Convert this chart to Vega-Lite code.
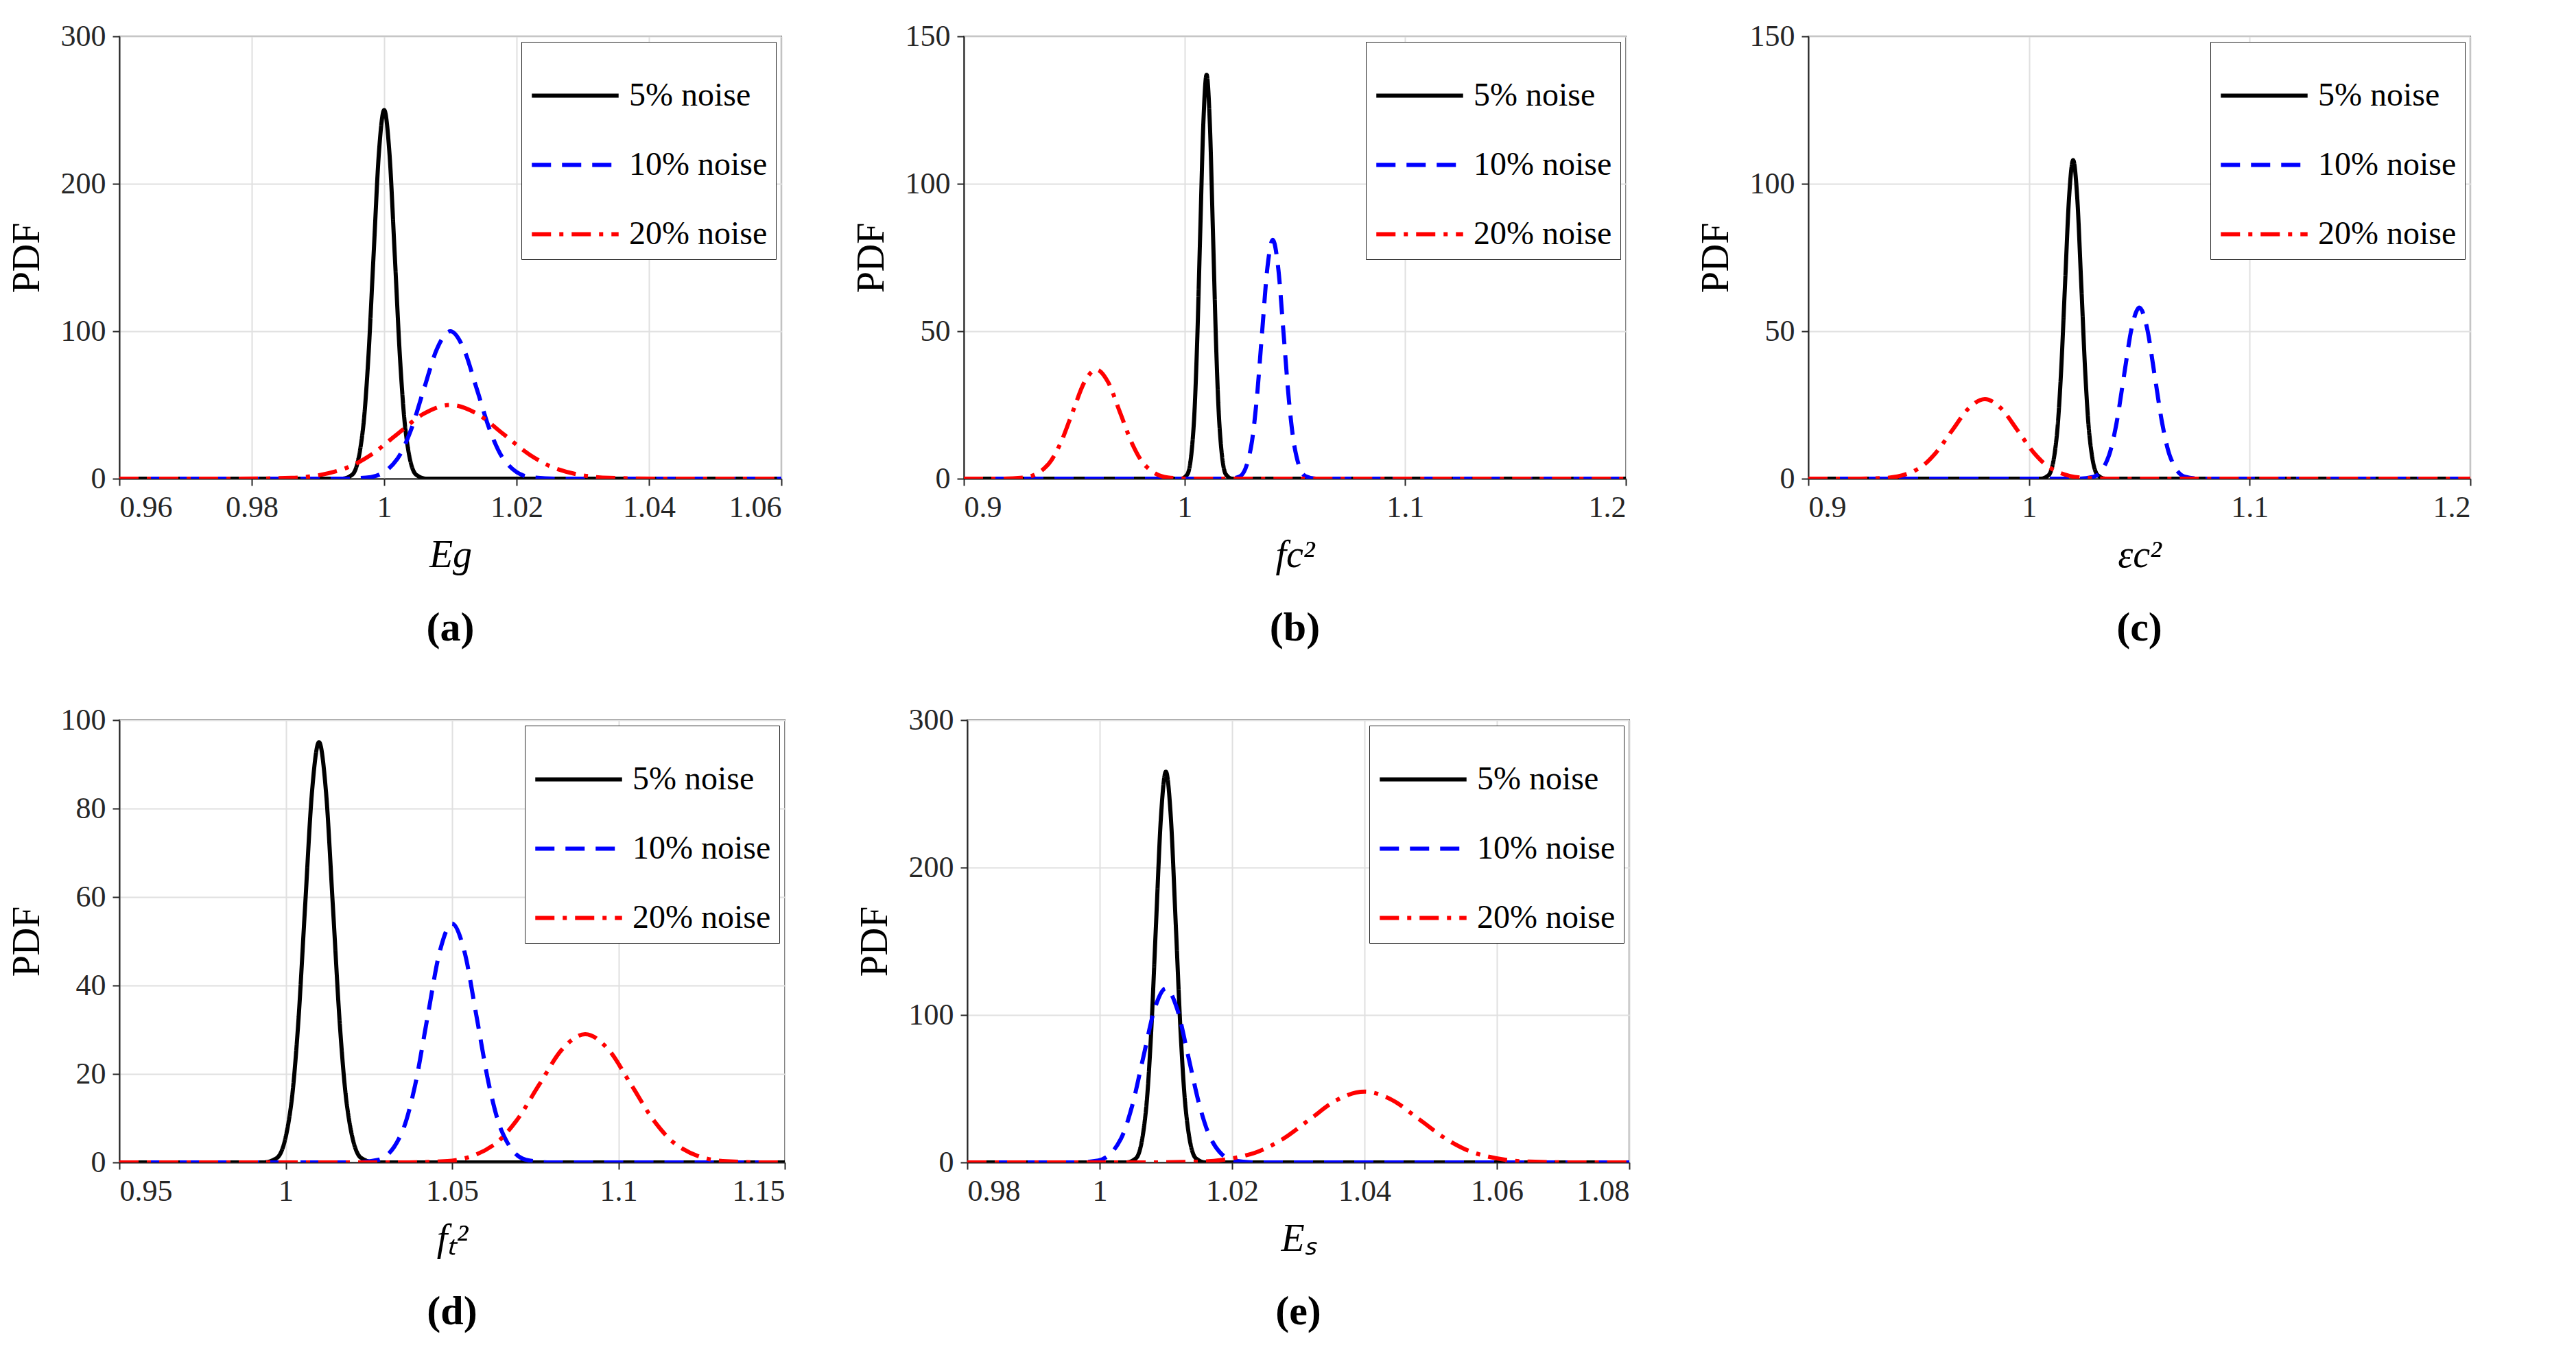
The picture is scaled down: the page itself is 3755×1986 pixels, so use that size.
{
  "$schema": "https://vega.github.io/schema/vega-lite/v6.json",
  "background": "white",
  "padding": {"left": 10, "top": 30, "right": 10, "bottom": 10},
  "datasets": {
    "a": [
      {"s":"5% noise","x":0.96,"y":0},{"s":"5% noise","x":0.9936,"y":0},{"s":"5% noise","x":0.9952,"y":2.8},{"s":"5% noise","x":0.9968,"y":33.8},{"s":"5% noise","x":0.9976,"y":81.2},{"s":"5% noise","x":0.9984,"y":151.6},{"s":"5% noise","x":0.9992,"y":220.6},{"s":"5% noise","x":1.0,"y":250},{"s":"5% noise","x":1.0008,"y":220.6},{"s":"5% noise","x":1.0016,"y":151.6},{"s":"5% noise","x":1.0024,"y":81.2},{"s":"5% noise","x":1.0032,"y":33.8},{"s":"5% noise","x":1.0048,"y":2.8},{"s":"5% noise","x":1.0064,"y":0},{"s":"5% noise","x":1.06,"y":0},
      {"s":"10% noise","x":0.96,"y":0},{"s":"10% noise","x":0.994,"y":0},{"s":"10% noise","x":0.998,"y":1.1},{"s":"10% noise","x":1.002,"y":13.5},{"s":"10% noise","x":1.004,"y":32.5},{"s":"10% noise","x":1.006,"y":60.7},{"s":"10% noise","x":1.008,"y":88.3},{"s":"10% noise","x":1.01,"y":100},{"s":"10% noise","x":1.012,"y":88.3},{"s":"10% noise","x":1.014,"y":60.7},{"s":"10% noise","x":1.016,"y":32.5},{"s":"10% noise","x":1.018,"y":13.5},{"s":"10% noise","x":1.022,"y":1.1},{"s":"10% noise","x":1.026,"y":0},{"s":"10% noise","x":1.06,"y":0},
      {"s":"20% noise","x":0.96,"y":0},{"s":"20% noise","x":0.978,"y":0},{"s":"20% noise","x":0.986,"y":0.55},{"s":"20% noise","x":0.994,"y":6.8},{"s":"20% noise","x":0.998,"y":16.2},{"s":"20% noise","x":1.002,"y":30.3},{"s":"20% noise","x":1.006,"y":44.1},{"s":"20% noise","x":1.01,"y":50},{"s":"20% noise","x":1.014,"y":44.1},{"s":"20% noise","x":1.018,"y":30.3},{"s":"20% noise","x":1.022,"y":16.2},{"s":"20% noise","x":1.026,"y":6.8},{"s":"20% noise","x":1.034,"y":0.55},{"s":"20% noise","x":1.042,"y":0},{"s":"20% noise","x":1.06,"y":0}
    ],
    "b": [
      {"s":"5% noise","x":0.9,"y":0},{"s":"5% noise","x":0.9984,"y":0},{"s":"5% noise","x":1.0013,"y":1.5},{"s":"5% noise","x":1.0042,"y":18.5},{"s":"5% noise","x":1.00565,"y":44.5},{"s":"5% noise","x":1.0071,"y":83.1},{"s":"5% noise","x":1.00855,"y":120.9},{"s":"5% noise","x":1.01,"y":137},{"s":"5% noise","x":1.01145,"y":120.9},{"s":"5% noise","x":1.0129,"y":83.1},{"s":"5% noise","x":1.01435,"y":44.5},{"s":"5% noise","x":1.0158,"y":18.5},{"s":"5% noise","x":1.0187,"y":1.5},{"s":"5% noise","x":1.0216,"y":0},{"s":"5% noise","x":1.2,"y":0},
      {"s":"10% noise","x":0.9,"y":0},{"s":"10% noise","x":1.0204,"y":0},{"s":"10% noise","x":1.0253,"y":0.9},{"s":"10% noise","x":1.0302,"y":11.0},{"s":"10% noise","x":1.03265,"y":26.3},{"s":"10% noise","x":1.0351,"y":49.1},{"s":"10% noise","x":1.03755,"y":71.5},{"s":"10% noise","x":1.04,"y":81},{"s":"10% noise","x":1.04245,"y":71.5},{"s":"10% noise","x":1.0449,"y":49.1},{"s":"10% noise","x":1.04735,"y":26.3},{"s":"10% noise","x":1.0498,"y":11.0},{"s":"10% noise","x":1.0547,"y":0.9},{"s":"10% noise","x":1.0596,"y":0},{"s":"10% noise","x":1.2,"y":0},
      {"s":"20% noise","x":0.9,"y":0},{"s":"20% noise","x":0.9168,"y":0},{"s":"20% noise","x":0.9276,"y":0.41},{"s":"20% noise","x":0.9384,"y":5.0},{"s":"20% noise","x":0.9438,"y":12.0},{"s":"20% noise","x":0.9492,"y":22.4},{"s":"20% noise","x":0.9546,"y":32.7},{"s":"20% noise","x":0.96,"y":37},{"s":"20% noise","x":0.9654,"y":32.7},{"s":"20% noise","x":0.9708,"y":22.4},{"s":"20% noise","x":0.9762,"y":12.0},{"s":"20% noise","x":0.9816,"y":5.0},{"s":"20% noise","x":0.9924,"y":0.41},{"s":"20% noise","x":1.0032,"y":0},{"s":"20% noise","x":1.2,"y":0}
    ],
    "c": [
      {"s":"5% noise","x":0.9,"y":0},{"s":"5% noise","x":1.0052,"y":0},{"s":"5% noise","x":1.0089,"y":1.2},{"s":"5% noise","x":1.0126,"y":14.6},{"s":"5% noise","x":1.01445,"y":35.1},{"s":"5% noise","x":1.0163,"y":65.5},{"s":"5% noise","x":1.01815,"y":95.3},{"s":"5% noise","x":1.02,"y":108},{"s":"5% noise","x":1.02185,"y":95.3},{"s":"5% noise","x":1.0237,"y":65.5},{"s":"5% noise","x":1.02555,"y":35.1},{"s":"5% noise","x":1.0274,"y":14.6},{"s":"5% noise","x":1.0311,"y":1.2},{"s":"5% noise","x":1.0348,"y":0},{"s":"5% noise","x":1.2,"y":0},
      {"s":"10% noise","x":0.9,"y":0},{"s":"10% noise","x":1.0224,"y":0},{"s":"10% noise","x":1.0293,"y":0.64},{"s":"10% noise","x":1.0362,"y":7.8},{"s":"10% noise","x":1.03965,"y":18.8},{"s":"10% noise","x":1.0431,"y":35.2},{"s":"10% noise","x":1.04655,"y":51.2},{"s":"10% noise","x":1.05,"y":58},{"s":"10% noise","x":1.05345,"y":51.2},{"s":"10% noise","x":1.0569,"y":35.2},{"s":"10% noise","x":1.06035,"y":18.8},{"s":"10% noise","x":1.0638,"y":7.8},{"s":"10% noise","x":1.0707,"y":0.64},{"s":"10% noise","x":1.0776,"y":0},{"s":"10% noise","x":1.2,"y":0},
      {"s":"20% noise","x":0.9,"y":0},{"s":"20% noise","x":0.9208,"y":0},{"s":"20% noise","x":0.9356,"y":0.3},{"s":"20% noise","x":0.9504,"y":3.65},{"s":"20% noise","x":0.9578,"y":8.8},{"s":"20% noise","x":0.9652,"y":16.4},{"s":"20% noise","x":0.9726,"y":23.8},{"s":"20% noise","x":0.98,"y":27},{"s":"20% noise","x":0.9874,"y":23.8},{"s":"20% noise","x":0.9948,"y":16.4},{"s":"20% noise","x":1.0022,"y":8.8},{"s":"20% noise","x":1.0096,"y":3.65},{"s":"20% noise","x":1.0244,"y":0.3},{"s":"20% noise","x":1.0392,"y":0},{"s":"20% noise","x":1.2,"y":0}
    ],
    "d": [
      {"s":"5% noise","x":0.95,"y":0},{"s":"5% noise","x":0.9932,"y":0},{"s":"5% noise","x":0.9974,"y":1.05},{"s":"5% noise","x":1.0016,"y":12.9},{"s":"5% noise","x":1.0037,"y":30.8},{"s":"5% noise","x":1.0058,"y":57.6},{"s":"5% noise","x":1.0079,"y":83.8},{"s":"5% noise","x":1.01,"y":95},{"s":"5% noise","x":1.0121,"y":83.8},{"s":"5% noise","x":1.0142,"y":57.6},{"s":"5% noise","x":1.0163,"y":30.8},{"s":"5% noise","x":1.0184,"y":12.9},{"s":"5% noise","x":1.0226,"y":1.05},{"s":"5% noise","x":1.0268,"y":0},{"s":"5% noise","x":1.15,"y":0},
      {"s":"10% noise","x":0.95,"y":0},{"s":"10% noise","x":1.0204,"y":0},{"s":"10% noise","x":1.0278,"y":0.6},{"s":"10% noise","x":1.0352,"y":7.3},{"s":"10% noise","x":1.0389,"y":17.5},{"s":"10% noise","x":1.0426,"y":32.8},{"s":"10% noise","x":1.0463,"y":47.7},{"s":"10% noise","x":1.05,"y":54},{"s":"10% noise","x":1.0537,"y":47.7},{"s":"10% noise","x":1.0574,"y":32.8},{"s":"10% noise","x":1.0611,"y":17.5},{"s":"10% noise","x":1.0648,"y":7.3},{"s":"10% noise","x":1.0722,"y":0.6},{"s":"10% noise","x":1.0796,"y":0},{"s":"10% noise","x":1.15,"y":0},
      {"s":"20% noise","x":0.95,"y":0},{"s":"20% noise","x":1.0348,"y":0},{"s":"20% noise","x":1.0486,"y":0.32},{"s":"20% noise","x":1.0624,"y":3.9},{"s":"20% noise","x":1.0693,"y":9.4},{"s":"20% noise","x":1.0762,"y":17.6},{"s":"20% noise","x":1.0831,"y":25.6},{"s":"20% noise","x":1.09,"y":29},{"s":"20% noise","x":1.0969,"y":25.6},{"s":"20% noise","x":1.1038,"y":17.6},{"s":"20% noise","x":1.1107,"y":9.4},{"s":"20% noise","x":1.1176,"y":3.9},{"s":"20% noise","x":1.1314,"y":0.32},{"s":"20% noise","x":1.1452,"y":0},{"s":"20% noise","x":1.15,"y":0}
    ],
    "e": [
      {"s":"5% noise","x":0.98,"y":0},{"s":"5% noise","x":1.004,"y":0},{"s":"5% noise","x":1.0055,"y":2.9},{"s":"5% noise","x":1.007,"y":35.9},{"s":"5% noise","x":1.00775,"y":86.0},{"s":"5% noise","x":1.0085,"y":160.7},{"s":"5% noise","x":1.00925,"y":233.9},{"s":"5% noise","x":1.01,"y":265},{"s":"5% noise","x":1.01075,"y":233.9},{"s":"5% noise","x":1.0115,"y":160.7},{"s":"5% noise","x":1.01225,"y":86.0},{"s":"5% noise","x":1.013,"y":35.9},{"s":"5% noise","x":1.0145,"y":2.9},{"s":"5% noise","x":1.016,"y":0},{"s":"5% noise","x":1.08,"y":0},
      {"s":"10% noise","x":0.98,"y":0},{"s":"10% noise","x":0.9964,"y":0},{"s":"10% noise","x":0.9998,"y":1.3},{"s":"10% noise","x":1.0032,"y":16.0},{"s":"10% noise","x":1.0049,"y":38.3},{"s":"10% noise","x":1.0066,"y":71.6},{"s":"10% noise","x":1.0083,"y":104.1},{"s":"10% noise","x":1.01,"y":118},{"s":"10% noise","x":1.0117,"y":104.1},{"s":"10% noise","x":1.0134,"y":71.6},{"s":"10% noise","x":1.0151,"y":38.3},{"s":"10% noise","x":1.0168,"y":16.0},{"s":"10% noise","x":1.0202,"y":1.3},{"s":"10% noise","x":1.0236,"y":0},{"s":"10% noise","x":1.08,"y":0},
      {"s":"20% noise","x":0.98,"y":0},{"s":"20% noise","x":1.0068,"y":0},{"s":"20% noise","x":1.0151,"y":0.53},{"s":"20% noise","x":1.0234,"y":6.5},{"s":"20% noise","x":1.02755,"y":15.6},{"s":"20% noise","x":1.0317,"y":29.1},{"s":"20% noise","x":1.03585,"y":42.4},{"s":"20% noise","x":1.04,"y":48},{"s":"20% noise","x":1.04415,"y":42.4},{"s":"20% noise","x":1.0483,"y":29.1},{"s":"20% noise","x":1.05245,"y":15.6},{"s":"20% noise","x":1.0566,"y":6.5},{"s":"20% noise","x":1.0649,"y":0.53},{"s":"20% noise","x":1.0732,"y":0},{"s":"20% noise","x":1.08,"y":0}
    ]
  },
  "vconcat": [
    {
      "hconcat": [
        {
          "width": 965, "height": 645,
          "data": {"name": "a"},
          "title": {"text": "(a)", "orient": "bottom"},
          "mark": {"type": "line", "strokeWidth": 6, "interpolate": "monotone", "clip": true},
          "encoding": {
            "x": {"field": "x", "type": "quantitative", "title": "Eg", "scale": {"domain": [0.96, 1.06], "nice": false}, "axis": {"values": [0.96, 0.98, 1, 1.02, 1.04, 1.06]}},
            "y": {"field": "y", "type": "quantitative", "title": "PDF", "scale": {"domain": [0, 300], "nice": false}, "axis": {"values": [0, 100, 200, 300]}},
            "color": {"field": "s", "type": "nominal", "title": null, "scale": {"domain": ["5% noise", "10% noise", "20% noise"], "range": ["#000000", "#0000ff", "#ff0000"]}},
            "strokeDash": {"field": "s", "type": "nominal", "title": null, "scale": {"domain": ["5% noise", "10% noise", "20% noise"], "range": [[1, 0], [28, 16], [28, 12, 6, 12]]}}
          }
        },
        {
          "width": 965, "height": 645,
          "data": {"name": "b"},
          "title": {"text": "(b)", "orient": "bottom"},
          "mark": {"type": "line", "strokeWidth": 6, "interpolate": "monotone", "clip": true},
          "encoding": {
            "x": {"field": "x", "type": "quantitative", "title": "fc²", "scale": {"domain": [0.9, 1.2], "nice": false}, "axis": {"values": [0.9, 1, 1.1, 1.2]}},
            "y": {"field": "y", "type": "quantitative", "title": "PDF", "scale": {"domain": [0, 150], "nice": false}, "axis": {"values": [0, 50, 100, 150]}},
            "color": {"field": "s", "type": "nominal", "title": null, "scale": {"domain": ["5% noise", "10% noise", "20% noise"], "range": ["#000000", "#0000ff", "#ff0000"]}},
            "strokeDash": {"field": "s", "type": "nominal", "title": null, "scale": {"domain": ["5% noise", "10% noise", "20% noise"], "range": [[1, 0], [28, 16], [28, 12, 6, 12]]}}
          }
        },
        {
          "width": 965, "height": 645,
          "data": {"name": "c"},
          "title": {"text": "(c)", "orient": "bottom"},
          "mark": {"type": "line", "strokeWidth": 6, "interpolate": "monotone", "clip": true},
          "encoding": {
            "x": {"field": "x", "type": "quantitative", "title": "εc²", "scale": {"domain": [0.9, 1.2], "nice": false}, "axis": {"values": [0.9, 1, 1.1, 1.2]}},
            "y": {"field": "y", "type": "quantitative", "title": "PDF", "scale": {"domain": [0, 150], "nice": false}, "axis": {"values": [0, 50, 100, 150]}},
            "color": {"field": "s", "type": "nominal", "title": null, "scale": {"domain": ["5% noise", "10% noise", "20% noise"], "range": ["#000000", "#0000ff", "#ff0000"]}},
            "strokeDash": {"field": "s", "type": "nominal", "title": null, "scale": {"domain": ["5% noise", "10% noise", "20% noise"], "range": [[1, 0], [28, 16], [28, 12, 6, 12]]}}
          }
        }
      ],
      "spacing": 100,
      "resolve": {"scale": {"color": "independent", "strokeDash": "independent"}, "legend": {"color": "independent", "strokeDash": "independent"}}
    },
    {
      "hconcat": [
        {
          "width": 970, "height": 645,
          "data": {"name": "d"},
          "title": {"text": "(d)", "orient": "bottom"},
          "mark": {"type": "line", "strokeWidth": 6, "interpolate": "monotone", "clip": true},
          "encoding": {
            "x": {"field": "x", "type": "quantitative", "title": "fₜ²", "scale": {"domain": [0.95, 1.15], "nice": false}, "axis": {"values": [0.95, 1, 1.05, 1.1, 1.15]}},
            "y": {"field": "y", "type": "quantitative", "title": "PDF", "scale": {"domain": [0, 100], "nice": false}, "axis": {"values": [0, 20, 40, 60, 80, 100]}},
            "color": {"field": "s", "type": "nominal", "title": null, "scale": {"domain": ["5% noise", "10% noise", "20% noise"], "range": ["#000000", "#0000ff", "#ff0000"]}},
            "strokeDash": {"field": "s", "type": "nominal", "title": null, "scale": {"domain": ["5% noise", "10% noise", "20% noise"], "range": [[1, 0], [28, 16], [28, 12, 6, 12]]}}
          }
        },
        {
          "width": 965, "height": 645,
          "data": {"name": "e"},
          "title": {"text": "(e)", "orient": "bottom"},
          "mark": {"type": "line", "strokeWidth": 6, "interpolate": "monotone", "clip": true},
          "encoding": {
            "x": {"field": "x", "type": "quantitative", "title": "Eₛ", "scale": {"domain": [0.98, 1.08], "nice": false}, "axis": {"values": [0.98, 1, 1.02, 1.04, 1.06, 1.08]}},
            "y": {"field": "y", "type": "quantitative", "title": "PDF", "scale": {"domain": [0, 300], "nice": false}, "axis": {"values": [0, 100, 200, 300]}},
            "color": {"field": "s", "type": "nominal", "title": null, "scale": {"domain": ["5% noise", "10% noise", "20% noise"], "range": ["#000000", "#0000ff", "#ff0000"]}},
            "strokeDash": {"field": "s", "type": "nominal", "title": null, "scale": {"domain": ["5% noise", "10% noise", "20% noise"], "range": [[1, 0], [28, 16], [28, 12, 6, 12]]}}
          }
        }
      ],
      "spacing": 100,
      "resolve": {"scale": {"color": "independent", "strokeDash": "independent"}, "legend": {"color": "independent", "strokeDash": "independent"}}
    }
  ],
  "spacing": 80,
  "resolve": {"scale": {"color": "independent", "strokeDash": "independent"}, "legend": {"color": "independent", "strokeDash": "independent"}},
  "config": {
    "font": "Liberation Serif",
    "view": {"stroke": "#262626", "strokeWidth": 2},
    "title": {"fontSize": 60, "fontWeight": "bold", "font": "Liberation Serif", "offset": 50, "color": "black"},
    "axis": {
      "labelFont": "Liberation Serif", "labelFontSize": 44, "labelColor": "#262626",
      "titleFont": "Liberation Serif", "titleFontSize": 56, "titleFontWeight": "normal", "titleColor": "black",
      "domainColor": "#262626", "domainWidth": 2, "tickColor": "#262626", "tickSize": 10, "tickWidth": 2,
      "gridColor": "#e0e0e0", "gridWidth": 2, "format": "~r", "labelPadding": 10
    },
    "axisX": {"titleFontStyle": "italic", "titlePadding": 20},
    "axisY": {"titlePadding": 20},
    "legend": {
      "orient": "top-right", "offset": 8, "labelFont": "Liberation Serif", "labelFontSize": 48, "labelColor": "black", "labelLimit": 500,
      "symbolType": "stroke", "symbolStrokeWidth": 6, "symbolSize": 16000, "rowPadding": 10,
      "strokeColor": "#262626", "fillColor": "white", "padding": 12, "cornerRadius": 0, "labelOffset": 12
    }
  }
}
